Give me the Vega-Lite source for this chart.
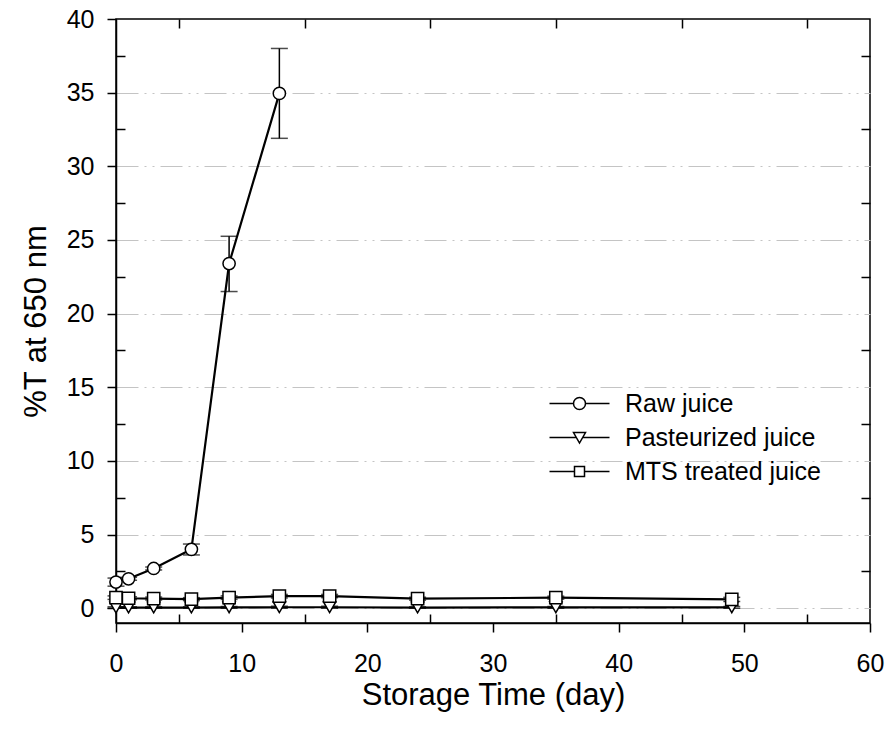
{
  "$schema": "https://vega.github.io/schema/vega-lite/v6.json",
  "width": 754,
  "height": 604,
  "autosize": "none",
  "padding": {"left": 116, "top": 19, "right": 19, "bottom": 112},
  "background": "white",
  "data": {
    "values": [
      {"series": "Raw juice", "day": 0, "value": 1.78, "lo": 1.5, "hi": 2.05},
      {"series": "Raw juice", "day": 1, "value": 2.0, "lo": 1.9, "hi": 2.1},
      {"series": "Raw juice", "day": 3, "value": 2.7, "lo": 2.6, "hi": 2.8},
      {"series": "Raw juice", "day": 6, "value": 4.0, "lo": 3.62, "hi": 4.36},
      {"series": "Raw juice", "day": 9, "value": 23.4, "lo": 21.5, "hi": 25.25},
      {"series": "Raw juice", "day": 13, "value": 34.95, "lo": 31.9, "hi": 38.0},
      {"series": "Pasteurized juice", "day": 0, "value": 0.05, "lo": 0.0, "hi": 0.1},
      {"series": "Pasteurized juice", "day": 1, "value": 0.05, "lo": 0.0, "hi": 0.1},
      {"series": "Pasteurized juice", "day": 3, "value": 0.05, "lo": 0.0, "hi": 0.1},
      {"series": "Pasteurized juice", "day": 6, "value": 0.05, "lo": 0.0, "hi": 0.1},
      {"series": "Pasteurized juice", "day": 9, "value": 0.06, "lo": 0.0, "hi": 0.12},
      {"series": "Pasteurized juice", "day": 13, "value": 0.07, "lo": 0.0, "hi": 0.14},
      {"series": "Pasteurized juice", "day": 17, "value": 0.07, "lo": 0.0, "hi": 0.14},
      {"series": "Pasteurized juice", "day": 24, "value": 0.05, "lo": 0.0, "hi": 0.1},
      {"series": "Pasteurized juice", "day": 35, "value": 0.06, "lo": 0.0, "hi": 0.12},
      {"series": "Pasteurized juice", "day": 49, "value": 0.06, "lo": 0.0, "hi": 0.12},
      {"series": "MTS treated juice", "day": 0, "value": 0.72, "lo": 0.6, "hi": 0.84},
      {"series": "MTS treated juice", "day": 1, "value": 0.68, "lo": 0.58, "hi": 0.78},
      {"series": "MTS treated juice", "day": 3, "value": 0.66, "lo": 0.56, "hi": 0.76},
      {"series": "MTS treated juice", "day": 6, "value": 0.62, "lo": 0.52, "hi": 0.72},
      {"series": "MTS treated juice", "day": 9, "value": 0.72, "lo": 0.6, "hi": 0.84},
      {"series": "MTS treated juice", "day": 13, "value": 0.82, "lo": 0.7, "hi": 0.94},
      {"series": "MTS treated juice", "day": 17, "value": 0.83, "lo": 0.72, "hi": 0.94},
      {"series": "MTS treated juice", "day": 24, "value": 0.65, "lo": 0.55, "hi": 0.75},
      {"series": "MTS treated juice", "day": 35, "value": 0.72, "lo": 0.62, "hi": 0.82},
      {"series": "MTS treated juice", "day": 49, "value": 0.6, "lo": 0.46, "hi": 0.74}
    ]
  },
  "resolve": {"axis": {"x": "independent", "y": "independent"}, "scale": {"shape": "independent"}},
  "layer": [
    {
      "mark": {"type": "point", "opacity": 0},
      "encoding": {
        "x": {"field": "day", "type": "quantitative", "scale": {"domain": [0, 60], "nice": false, "zero": false}, "axis": null},
        "y": {"field": "value", "type": "quantitative", "scale": {"domain": [-1, 40], "nice": false, "zero": false},
              "axis": {"orient": "left", "values": [0, 5, 10, 15, 20, 25, 30, 35], "ticks": false, "labels": false, "domain": false, "title": null,
                       "grid": true, "gridColor": "#c4c4c4", "gridWidth": 1, "gridDash": [22, 6, 2, 6, 2, 6]}}
      }
    },
    {
      "mark": {"type": "rule", "color": "black", "strokeWidth": 1.5},
      "encoding": {
        "x": {"field": "day", "type": "quantitative",
              "scale": {"domain": [0, 60], "nice": false, "zero": false},
              "axis": {"orient": "bottom", "values": [0, 10, 20, 30, 40, 50, 60], "tickSize": 9, "labelPadding": 19,
                       "labelFontSize": 25, "title": "Storage Time (day)", "titleFontSize": 31, "titlePadding": 4,
                       "grid": false, "labelFlush": false}},
        "y": {"field": "lo", "type": "quantitative",
              "scale": {"domain": [-1, 40], "nice": false, "zero": false},
              "axis": {"orient": "left", "values": [0, 5, 10, 15, 20, 25, 30, 35, 40], "tickSize": 9, "labelPadding": 13,
                       "labelFontSize": 25, "title": "%T at 650 nm", "titleFontSize": 31, "titlePadding": 14,
                       "grid": false, "labelFlush": false}},
        "y2": {"field": "hi"}
      }
    },
    {
      "mark": {"type": "tick", "orient": "horizontal", "size": 17, "thickness": 1.5, "color": "black"},
      "encoding": {
        "x": {"field": "day", "type": "quantitative", "scale": {"domain": [0, 60], "nice": false, "zero": false}, "axis": null},
        "y": {"field": "lo", "type": "quantitative", "scale": {"domain": [-1, 40], "nice": false, "zero": false}, "axis": null}
      }
    },
    {
      "mark": {"type": "tick", "orient": "horizontal", "size": 17, "thickness": 1.5, "color": "black"},
      "encoding": {
        "x": {"field": "day", "type": "quantitative", "scale": {"domain": [0, 60], "nice": false, "zero": false}, "axis": null},
        "y": {"field": "hi", "type": "quantitative", "scale": {"domain": [-1, 40], "nice": false, "zero": false}, "axis": null}
      }
    },
    {
      "mark": {"type": "line", "color": "black", "strokeWidth": 2.2},
      "encoding": {
        "x": {"field": "day", "type": "quantitative", "scale": {"domain": [0, 60], "nice": false, "zero": false}, "axis": null},
        "y": {"field": "value", "type": "quantitative", "scale": {"domain": [-1, 40], "nice": false, "zero": false}, "axis": null},
        "detail": {"field": "series"}
      }
    },
    {
      "mark": {"type": "point", "filled": true, "fill": "white", "stroke": "black", "strokeWidth": 1.5, "size": 150},
      "encoding": {
        "x": {"field": "day", "type": "quantitative", "scale": {"domain": [0, 60], "nice": false, "zero": false}, "axis": null},
        "y": {"field": "value", "type": "quantitative", "scale": {"domain": [-1, 40], "nice": false, "zero": false}, "axis": null},
        "shape": {"field": "series", "type": "nominal",
                  "scale": {"domain": ["Raw juice", "Pasteurized juice", "MTS treated juice"], "range": ["circle", "triangle-down", "square"]},
                  "legend": null}
      }
    },
    {
      "transform": [{"filter": "false"}],
      "mark": {"type": "point", "filled": true, "fill": "white", "stroke": "black", "strokeWidth": 1.7},
      "encoding": {
        "x": {"field": "day", "type": "quantitative", "scale": {"domain": [0, 60], "nice": false, "zero": false}, "axis": null},
        "y": {"field": "value", "type": "quantitative", "scale": {"domain": [-1, 40], "nice": false, "zero": false}, "axis": null},
        "shape": {"field": "series", "type": "nominal",
                  "scale": {"domain": ["Raw juice", "Pasteurized juice", "MTS treated juice"],
                            "range": ["M-7.2,0H-2.4A1.2,1.2,0,1,1,0,0A1.2,1.2,0,1,1,-2.4,0M0,0H4.8",
                                      "M-7.2,0H-1.83M-0.57,0H4.8M-2.4,-1H0L-1.2,1.1Z",
                                      "M-7.2,0H-2.2M-0.2,0H4.8M-2.2,-1H-0.2V1H-2.2Z"]},
                  "legend": {"orient": "none", "legendX": 457, "legendY": 372, "title": null,
                             "labelOffset": 27, "rowPadding": 8, "labelFontSize": 25, "labelLimit": 400}}
      }
    },
    {
      "mark": {"type": "point", "opacity": 0},
      "encoding": {
        "x": {"field": "day", "type": "quantitative", "scale": {"domain": [0, 60], "nice": false, "zero": false},
              "axis": {"orient": "bottom", "values": [5, 15, 25, 35, 45, 55], "tickSize": -9, "labels": false, "domain": false, "title": null, "grid": false}},
        "y": {"field": "value", "type": "quantitative", "scale": {"domain": [-1, 40], "nice": false, "zero": false},
              "axis": {"orient": "left", "values": [2.5, 7.5, 12.5, 17.5, 22.5, 27.5, 32.5, 37.5], "tickSize": -9, "labels": false, "domain": false, "title": null, "grid": false}}
      }
    },
    {
      "mark": {"type": "point", "opacity": 0},
      "encoding": {
        "x": {"field": "day", "type": "quantitative", "scale": {"domain": [0, 60], "nice": false, "zero": false},
              "axis": {"orient": "top", "values": [5, 15, 25, 35, 45, 55], "tickSize": -9, "labels": false, "domain": false, "title": null, "grid": false}},
        "y": {"field": "value", "type": "quantitative", "scale": {"domain": [-1, 40], "nice": false, "zero": false},
              "axis": {"orient": "right", "values": [2.5, 7.5, 12.5, 17.5, 22.5, 27.5, 32.5, 37.5], "tickSize": -9, "labels": false, "domain": false, "title": null, "grid": false}}
      }
    }
  ],
  "config": {
    "view": {"stroke": "black", "strokeWidth": 1.5},
    "point": {"opacity": 1},
    "axis": {"domainColor": "black", "domainWidth": 1.5, "tickColor": "black", "tickWidth": 1.5,
             "labelColor": "black", "titleColor": "black", "labelFont": "Liberation Sans", "titleFont": "Liberation Sans",
             "titleFontWeight": "normal"},
    "legend": {"labelFont": "Liberation Sans", "labelColor": "black"}
  }
}
